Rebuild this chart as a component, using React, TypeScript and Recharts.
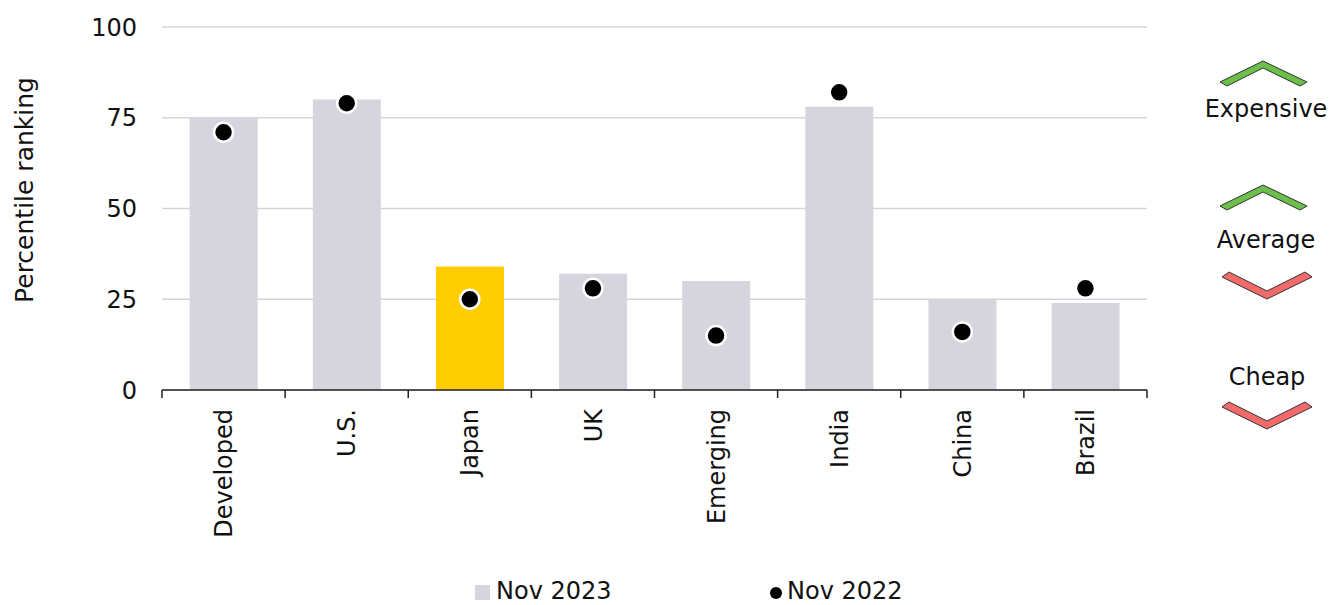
import React from 'react';
import { ComposedChart, Bar, Line, XAxis, YAxis, CartesianGrid, Cell, Legend } from 'recharts';

// valuation percentile ranking by market
const categories = ['Developed', 'U.S.', 'Japan', 'UK', 'Emerging', 'India', 'China', 'Brazil'];
const nov2023 = [75, 80, 34, 32, 30, 78, 25, 24];
const nov2022 = [71, 79, 25, 28, 15, 82, 16, 28];
const yTicks = [0, 25, 50, 75, 100];
const seriesNames = ['Nov 2023', 'Nov 2022'];
const highlighted = 'Japan';

const W = 1332;
const H = 605;
const PLOT_LEFT = 162;
const PLOT_RIGHT = 1147;
const PLOT_TOP = 27;
const PLOT_BOTTOM = 390;
const FONT = '"DejaVu Sans", sans-serif';
const BAR_GRAY = '#d6d5de';
const BAR_GOLD = '#ffcd00';
const GREEN = '#6cbf4a';
const RED = '#f26a6a';

const data = categories.map((name, i) => ({ name, nov2023: nov2023[i], nov2022: nov2022[i] }));

const band = (PLOT_RIGHT - PLOT_LEFT) / categories.length;

const XTick = (props: any) => {
  const { x, y, payload, index } = props;
  const left = x - band / 2;
  return (
    <g>
      <line x1={left} y1={y} x2={left} y2={y + 8} stroke="#222" strokeWidth={1.5} />
      {index === categories.length - 1 && (
        <line x1={x + band / 2} y1={y} x2={x + band / 2} y2={y + 8} stroke="#222" strokeWidth={1.5} />
      )}
      <text
        x={x}
        y={y + 19}
        dy="0.36em"
        textAnchor="end"
        transform={`rotate(-90 ${x} ${y + 19})`}
        fontFamily={FONT}
        fontSize={24}
        fill="#111"
      >
        {payload.value}
      </text>
    </g>
  );
};

const YLabel = () => (
  <text
    x={33}
    y={190}
    textAnchor="middle"
    transform="rotate(-90 33 190)"
    fontFamily={FONT}
    fontSize={25}
    fill="#111"
  >
    Percentile ranking
  </text>
);

const LegendContent = () => (
  <svg width={W} height={26} style={{ display: 'block' }}>
    <rect x={475} y={7} width={15} height={15} fill={BAR_GRAY} />
    <text x={496} y={21} fontFamily={FONT} fontSize={24} fill="#111">{seriesNames[0]}</text>
    <circle cx={776} cy={15} r={6} fill="#000" />
    <text x={787} y={21} fontFamily={FONT} fontSize={24} fill="#111">{seriesNames[1]}</text>
  </svg>
);

const chevronUp = (cx: number, top: number) =>
  `${cx - 43},${top + 21} ${cx},${top} ${cx + 44},${top + 21} ${cx + 37},${top + 25} ${cx},${top + 7} ${cx - 36},${top + 25}`;

const chevronDown = (cx: number, top: number) =>
  `${cx - 45},${top + 3} ${cx - 38},${top - 2} ${cx},${top + 17} ${cx + 38},${top - 2} ${cx + 45},${top + 3} ${cx},${top + 25}`;

const SidePanel = () => (
  <svg width={W} height={H} style={{ position: 'absolute', left: 0, top: 0, pointerEvents: 'none' }}>
    <polygon points={chevronUp(1263, 61)} fill={GREEN} stroke="#333" strokeWidth={1} />
    <text x={1266} y={117} textAnchor="middle" fontFamily={FONT} fontSize={24} fill="#111">Expensive</text>
    <polygon points={chevronUp(1263, 185)} fill={GREEN} stroke="#333" strokeWidth={1} />
    <text x={1266} y={248} textAnchor="middle" fontFamily={FONT} fontSize={24} fill="#111">Average</text>
    <polygon points={chevronDown(1267, 274)} fill={RED} stroke="#333" strokeWidth={1} />
    <text x={1267} y={385} textAnchor="middle" fontFamily={FONT} fontSize={24} fill="#111">Cheap</text>
    <polygon points={chevronDown(1267, 404)} fill={RED} stroke="#333" strokeWidth={1} />
  </svg>
);

export default function App() {
  return (
    <div style={{ position: 'absolute', left: 0, top: 0, width: W, height: H, background: '#fff', overflow: 'hidden' }}>
      <ComposedChart
        width={W}
        height={H}
        data={data}
        margin={{ top: PLOT_TOP, right: W - PLOT_RIGHT, bottom: 0, left: 0 }}
        barCategoryGap="22.5%"
      >
        <CartesianGrid vertical={false} stroke="#d5d4dd" strokeWidth={1.5} />
        <XAxis
          dataKey="name"
          height={H - PLOT_BOTTOM}
          interval={0}
          tickLine={false}
          tickSize={0}
          tickMargin={0}
          axisLine={{ stroke: '#222', strokeWidth: 1.5 }}
          tick={<XTick />}
        />
        <YAxis
          width={PLOT_LEFT}
          domain={[0, 100]}
          ticks={yTicks}
          axisLine={false}
          tickLine={false}
          tickSize={0}
          tickMargin={25}
          tick={{ fontFamily: FONT, fontSize: 24, fill: '#111' }}
          label={<YLabel />}
        />
        <Legend
          layout="horizontal"
          verticalAlign="middle"
          align="center"
          wrapperStyle={{ left: 0, top: 578, width: W, height: 26 }}
          content={<LegendContent />}
        />
        <Bar dataKey="nov2023" name={seriesNames[0]} isAnimationActive={false}>
          {data.map((d) => (
            <Cell key={d.name} fill={d.name === highlighted ? BAR_GOLD : BAR_GRAY} />
          ))}
        </Bar>
        <Line
          dataKey="nov2022"
          name={seriesNames[1]}
          stroke="none"
          isAnimationActive={false}
          dot={{ r: 9.5, fill: '#000', stroke: '#fff', strokeWidth: 2.5 }}
          activeDot={false}
        />
      </ComposedChart>
      <SidePanel />
    </div>
  );
}
